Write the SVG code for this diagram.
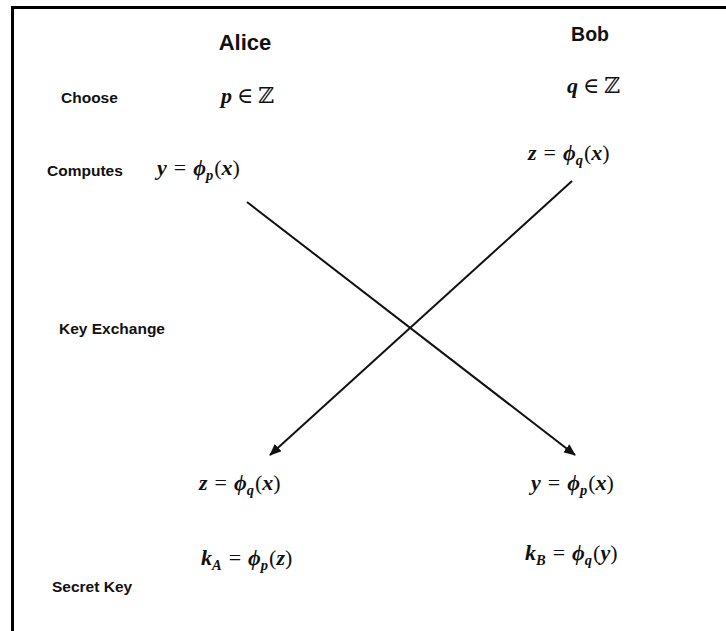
<svg xmlns="http://www.w3.org/2000/svg" width="726" height="631" viewBox="0 0 726 631">
<style>
.lb{font-family:"Liberation Sans",Arial,sans-serif;font-weight:bold;fill:#111}
.l{font-size:15.5px}
.m{font-family:"Liberation Serif","DejaVu Serif",serif;font-size:22px;fill:#111}
.v{font-weight:bold;font-style:italic}
.s{font-size:14.5px}
.c{stroke:#111;stroke-width:2;fill:none}
</style>
<defs>
<marker id="ah" viewBox="0 0 12 10" refX="11" refY="5" markerWidth="12" markerHeight="10" markerUnits="userSpaceOnUse" orient="auto">
<path d="M0,0 L12,5 L0,10 Z" fill="#111"/>
</marker>
</defs>
<rect width="726" height="631" fill="#fff"/>
<rect x="12.5" y="7.5" width="760" height="680" fill="none" stroke="#000" stroke-width="3"/>
<g id="headers">
<text class="lb" x="245" y="50" font-size="22" text-anchor="middle">Alice</text>
<text class="lb" x="590" y="41" font-size="19.5" text-anchor="middle">Bob</text>
</g>
<g id="row-labels">
<text class="lb l" x="61" y="103">Choose</text>
<text class="lb l" x="47" y="176">Computes</text>
<text class="lb l" x="59" y="334">Key Exchange</text>
<text class="lb l" x="52" y="592">Secret Key</text>
</g>
<g id="alice-choose"><text class="m" x="221" y="103"><tspan class="v">p</tspan><tspan dx="5">∈</tspan><tspan dx="5">ℤ</tspan></text></g>
<g id="bob-choose"><text class="m" x="567" y="93"><tspan class="v">q</tspan><tspan dx="5">∈</tspan><tspan dx="5">ℤ</tspan></text></g>
<g id="alice-compute"><text class="m" x="157" y="175"><tspan class="v">y</tspan><tspan dx="7">=</tspan><tspan class="v" dx="7">ϕ</tspan><tspan class="v s" dy="5">p</tspan><tspan dy="-5" dx="1">(</tspan><tspan class="v">x</tspan><tspan>)</tspan></text></g>
<g id="bob-compute"><text class="m" x="528" y="160"><tspan class="v">z</tspan><tspan dx="7">=</tspan><tspan class="v" dx="7">ϕ</tspan><tspan class="v s" dy="5">q</tspan><tspan dy="-5" dx="1">(</tspan><tspan class="v">x</tspan><tspan>)</tspan></text></g>
<g id="alice-receive"><text class="m" x="199" y="490"><tspan class="v">z</tspan><tspan dx="7">=</tspan><tspan class="v" dx="7">ϕ</tspan><tspan class="v s" dy="5">q</tspan><tspan dy="-5" dx="1">(</tspan><tspan class="v">x</tspan><tspan>)</tspan></text></g>
<g id="bob-receive"><text class="m" x="531" y="490"><tspan class="v">y</tspan><tspan dx="7">=</tspan><tspan class="v" dx="7">ϕ</tspan><tspan class="v s" dy="5">p</tspan><tspan dy="-5" dx="1">(</tspan><tspan class="v">x</tspan><tspan>)</tspan></text></g>
<g id="alice-key"><text class="m" x="201" y="565"><tspan class="v">k</tspan><tspan class="v s" dy="5">A</tspan><tspan dx="7" dy="-5">=</tspan><tspan class="v" dx="7">ϕ</tspan><tspan class="v s" dy="5">p</tspan><tspan dy="-5" dx="1">(</tspan><tspan class="v">z</tspan><tspan>)</tspan></text></g>
<g id="bob-key"><text class="m" x="525" y="560"><tspan class="v">k</tspan><tspan class="v s" dy="5">B</tspan><tspan dx="7" dy="-5">=</tspan><tspan class="v" dx="7">ϕ</tspan><tspan class="v s" dy="5">q</tspan><tspan dy="-5" dx="1">(</tspan><tspan class="v">y</tspan><tspan>)</tspan></text></g>
<g id="connectors">
<line class="c" x1="247" y1="202" x2="575" y2="455" marker-end="url(#ah)"/>
<line class="c" x1="572" y1="181" x2="270" y2="455" marker-end="url(#ah)"/>
</g>
</svg>
